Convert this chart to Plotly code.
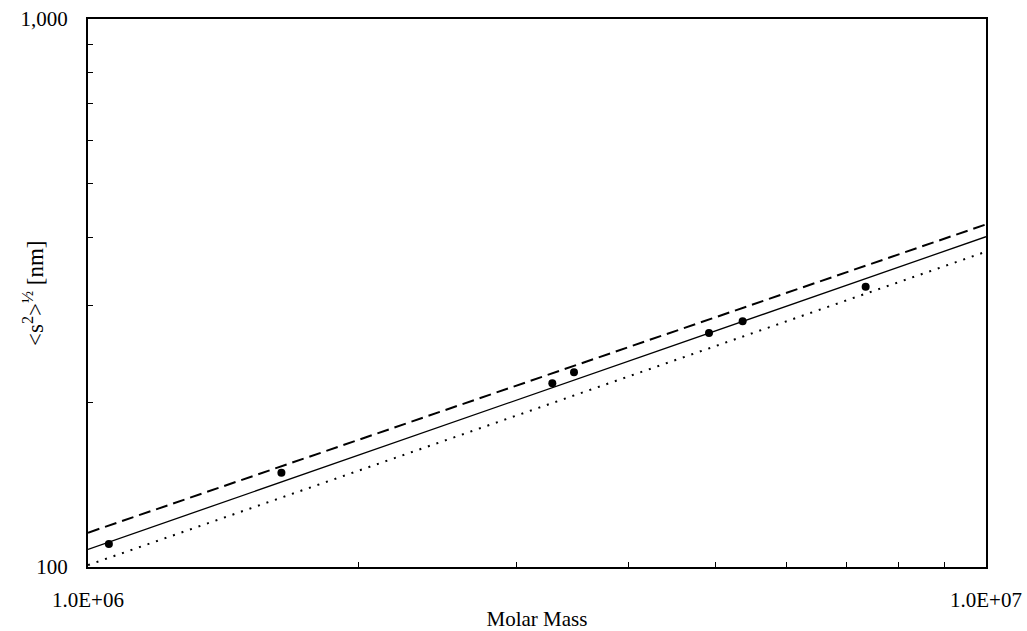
import plotly.graph_objects as go

# measured points
molar_mass = [1.055e6, 1.642e6, 3.289e6, 3.477e6, 4.915e6, 5.358e6, 7.345e6]
rg_nm = [110.1, 148.6, 216.4, 226.6, 267.3, 280.8, 324.8]

# line endpoints
line_x = [1.0e6, 1.0e7]
solid_y = [107.7, 400.6]
dashed_y = [115.5, 421.9]
dotted_y = [100.8, 376.2]

x_tickvals = [1e6, 1e7]
x_ticktext = ["1.0E+06", "1.0E+07"]
y_tickvals = [100, 1000]
y_ticktext = ["100", "1,000"]
x_minor = [2e6, 3e6, 4e6, 5e6, 6e6, 7e6, 8e6, 9e6]
y_minor = [200, 300, 400, 500, 600, 700, 800, 900]

font_family = "Liberation Serif"

fig = go.Figure()
fig.add_trace(go.Scatter(x=line_x, y=dashed_y, mode="lines",
                         line=dict(color="black", width=2, dash="12px,6px"), showlegend=False))
fig.add_trace(go.Scatter(x=line_x, y=solid_y, mode="lines",
                         line=dict(color="black", width=1.3), showlegend=False))
fig.add_trace(go.Scatter(x=line_x, y=dotted_y, mode="lines",
                         line=dict(color="black", width=2, dash="2px,7px"), showlegend=False))
fig.add_trace(go.Scatter(x=molar_mass, y=rg_nm, mode="markers",
                         marker=dict(color="black", size=8), showlegend=False))

fig.update_layout(
    width=1027, height=631,
    margin=dict(l=88, r=41, t=19, b=64),
    paper_bgcolor="white", plot_bgcolor="white",
    font=dict(family=font_family, size=20, color="black"),
    annotations=[dict(
        text="<s<sup>2</sup>><sup>½</sup> [nm]", textangle=-90,
        xref="paper", yref="paper", x=0, y=0.5, xanchor="center", yanchor="middle",
        xshift=-55, showarrow=False, font=dict(size=23, family=font_family, color="#000000"),
    )],
)
fig.update_xaxes(
    type="log", range=[6, 7], automargin=False,
    tickmode="array", tickvals=x_tickvals, ticktext=x_ticktext,
    tickfont=dict(size=21),
    ticks="inside", ticklen=5, tickcolor="black",
    showline=True, linecolor="black", linewidth=2, mirror=True,
    showgrid=False, zeroline=False,
    ticklabelstandoff=13,
    minor=dict(tickmode="array", tickvals=x_minor, ticks="inside", ticklen=5,
               tickcolor="black", showgrid=False),
    title=dict(text="Molar Mass", font=dict(size=21), standoff=6),
)
fig.update_yaxes(
    type="log", range=[2, 3], automargin=False,
    tickmode="array", tickvals=y_tickvals, ticktext=y_ticktext,
    tickfont=dict(size=21),
    ticks="outside", ticklen=14, tickcolor="rgba(0,0,0,0)",
    showline=True, linecolor="black", linewidth=2, mirror=True,
    showgrid=False, zeroline=False,
    minor=dict(tickmode="array", tickvals=y_minor, ticks="inside", ticklen=5,
               tickcolor="black", showgrid=False),
)

fig.write_html("out.html")
